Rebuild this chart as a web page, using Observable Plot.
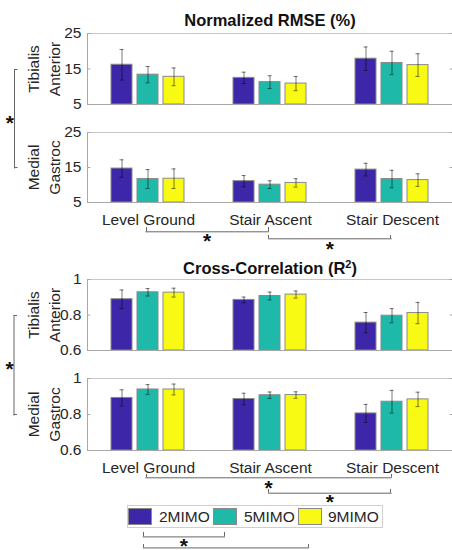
<!DOCTYPE html>
<html>
<head>
<meta charset="utf-8">
<script src="https://cdn.jsdelivr.net/npm/d3@7"></script>
<script src="https://cdn.jsdelivr.net/npm/@observablehq/plot@0.6"></script>
<style>
html, body { margin: 0; padding: 0; background: #fff; overflow: hidden; }
#chart { position: relative; width: 452px; height: 550px; overflow: hidden;
  font-family: "Liberation Sans", Arial, Helvetica, sans-serif; color: #262626; background: #fff; }
#chart svg { position: absolute; max-width: none; }
.title { position: absolute; left: 86px; width: 368px; text-align: center; font-weight: bold;
  font-size: 16.5px; line-height: 16px; color: #111; white-space: nowrap; }
.title sup { font-size: 11px; line-height: 0; vertical-align: 6px; }
.legend { position: absolute; box-sizing: border-box; border: 1px solid #cfcfcf; background: #fff; }
.sw { position: absolute; box-sizing: border-box; border: 1px solid #8a8a8a; }
.lt { position: absolute; font-size: 15.5px; line-height: 18px; color: #262626; white-space: nowrap; }
</style>
</head>
<body>
<div id="chart"></div>
<script>
// ---------- data ----------
const categories = ["Level Ground", "Stair Ascent", "Stair Descent"];
const series = ["2MIMO", "5MIMO", "9MIMO"];
const colors = ["#3d26a8", "#1eb9a9", "#f9fa14"];
const muscles = ["Tibialis\nAnterior", "Medial\nGastroc"];

// rows: categories, columns: series
const rmseTA    = [[16.2, 13.4, 12.8], [12.5, 11.3, 10.9], [17.9, 16.7, 16.1]];
const rmseTAerr = [[4.3, 2.3, 2.5], [1.6, 1.8, 2.0], [3.3, 3.3, 3.2]];
const rmseMG    = [[14.7, 11.7, 11.8], [11.1, 10.1, 10.6], [14.4, 11.7, 11.4]];
const rmseMGerr = [[2.5, 2.7, 2.8], [1.6, 1.1, 1.2], [1.8, 2.5, 1.8]];
const ccTA      = [[0.889, 0.928, 0.926], [0.885, 0.907, 0.915], [0.757, 0.796, 0.811]];
const ccTAerr   = [[0.052, 0.021, 0.025], [0.016, 0.022, 0.020], [0.057, 0.040, 0.060]];
const ccMG      = [[0.892, 0.939, 0.939], [0.886, 0.907, 0.908], [0.806, 0.871, 0.884]];
const ccMGerr   = [[0.045, 0.027, 0.030], [0.032, 0.018, 0.018], [0.050, 0.063, 0.040]];

const rmseTicks = [5, 15, 25];
const ccTicks = [0.6, 0.8, 1];
const rmseDomain = [5, 25];
const ccDomain = [0.6, 1];

// significance pairs
const rmseSig = [["Level Ground", "Stair Ascent"], ["Stair Ascent", "Stair Descent"]];
const ccSig = [["Level Ground", "Stair Descent"], ["Stair Ascent", "Stair Descent"]];
const modelSig = [["2MIMO", "5MIMO"], ["2MIMO", "9MIMO"]];
const muscleSig = [muscles[0], muscles[1]];

// ---------- layout ----------
const FONT = '"Liberation Sans", Arial, Helvetica, sans-serif';
const FRAME_L = 86, FRAME_R = 454, SVG_W = 454;
const STEP = (FRAME_R - FRAME_L) / categories.length;
const AX = "#a8a8a8", AX2 = "#c8c8c8", BR = "#666", STAR = 21, STAR_SHIFT = 0.2;
const EB = {stroke: "#000", strokeOpacity: 0.52};
const chart = document.getElementById("chart");

function place(el, left, top) {
  el.style.left = left + "px";
  el.style.top = top + "px";
  chart.appendChild(el);
}

function table(vals, errs) {
  const rows = [];
  categories.forEach((c, i) => series.forEach((s, j) =>
    rows.push({cat: c, series: s, value: vals[i][j], err: errs[i][j]})));
  return rows;
}

function panel({rows, domain, ticks, label, top, bottom, showCats}) {
  const mt = 8, mb = showCats ? 36 : 8;
  const [yMin, yMax] = domain;
  const lo = d => d.value - d.err, hi = d => d.value + d.err;
  const marks = [
    Plot.barY(rows, {fx: "cat", x: "series", y1: () => yMin, y2: "value", fill: "series", stroke: "#8a8a8a", strokeWidth: 1}),
    Plot.ruleX(rows, {fx: "cat", x: "series", y1: lo, y2: hi, ...EB}),
    Plot.tickY(rows, {fx: "cat", x: "series", y: lo, insetLeft: 8.5, insetRight: 8.5, ...EB}),
    Plot.tickY(rows, {fx: "cat", x: "series", y: hi, insetLeft: 8.5, insetRight: 8.5, ...EB}),
    Plot.ruleY([yMax], {stroke: AX2}),
    Plot.ruleY([yMin], {stroke: AX}),
    Plot.frame({anchor: "left", facetAnchor: "left", stroke: AX}),
    Plot.frame({anchor: "right", facetAnchor: "right", stroke: AX2}),
    Plot.tickY(ticks, {y: d => d, facetAnchor: "left", insetRight: STEP - 4, stroke: AX}),
    Plot.tickY(ticks, {y: d => d, facetAnchor: "right", insetLeft: STEP - 4, stroke: AX}),
    Plot.axisY({anchor: "left", facetAnchor: "left", ticks, tickSize: 0, tickPadding: 6, label: null, tickFormat: d => String(d), fill: "#262626"}),
    Plot.text([label], {frameAnchor: "left", facetAnchor: "left", dx: -44.5, rotate: -90, textAnchor: "middle", lineAnchor: "middle", lineHeight: 1.355, fill: "#262626"})
  ];
  if (showCats) marks.push(Plot.axisFx({anchor: "bottom", tickSize: 0, tickPadding: 11, label: null, fill: "#262626"}));
  const svg = Plot.plot({
    width: SVG_W, height: (bottom - top) + mt + mb,
    marginLeft: FRAME_L, marginRight: SVG_W - FRAME_R, marginTop: mt, marginBottom: mb,
    style: {fontFamily: FONT, fontSize: "15.5px", color: "#262626", background: "transparent", overflow: "visible", maxWidth: "none"},
    fx: {domain: categories, padding: 0, axis: null, label: null},
    x: {domain: series, paddingInner: 0.185, paddingOuter: 0.864, axis: null, label: null},
    y: {domain, axis: null, label: null},
    color: {domain: series, range: colors},
    marks
  });
  place(svg, 0, top - mt);
}

function hBracket(labels, p1, p2, lineY, tick, starOff) {
  const mt = 4, mb = 26, W = 452;
  const svg = Plot.plot({
    width: W, height: mt + tick + mb,
    marginLeft: p1, marginRight: W - p2, marginTop: mt, marginBottom: mb,
    style: {fontFamily: FONT, background: "transparent", overflow: "visible", maxWidth: "none"},
    x: {type: "point", domain: labels, padding: 0, axis: null},
    marks: [
      Plot.frame({anchor: "bottom", stroke: BR}),
      Plot.ruleX(labels, {stroke: BR}),
      Plot.text(["*"], {frameAnchor: "bottom", lineAnchor: "middle", dy: starOff + STAR_SHIFT * STAR, fontSize: STAR, fontWeight: "bold", fill: "#111"})
    ]
  });
  place(svg, 0, lineY - tick - mt);
}

function vBracket(labels, x, y1, y2, tick, starDx) {
  const mt = 10, mb = 10, W = 30;
  const svg = Plot.plot({
    width: W, height: (y2 - y1) + mt + mb,
    marginLeft: x, marginRight: W - x - tick, marginTop: mt, marginBottom: mb,
    style: {fontFamily: FONT, background: "transparent", overflow: "visible", maxWidth: "none"},
    y: {type: "point", domain: labels, padding: 0, axis: null},
    marks: [
      Plot.frame({anchor: "left", stroke: BR}),
      Plot.ruleY(labels, {stroke: BR}),
      Plot.text(["*"], {frameAnchor: "left", lineAnchor: "middle", dx: starDx, dy: STAR_SHIFT * STAR, textAnchor: "middle", fontSize: STAR, fontWeight: "bold", fill: "#111"})
    ]
  });
  place(svg, 0, y1 - mt);
}

const catX = c => FRAME_L + STEP * (categories.indexOf(c) + 0.5);

// ---------- titles ----------
const t1 = document.createElement("div");
t1.className = "title"; t1.textContent = "Normalized RMSE (%)";
place(t1, 86, 12);
const t2 = document.createElement("div");
t2.className = "title"; t2.innerHTML = "Cross-Correlation (R<sup>2</sup>)";
place(t2, 86, 260);

// ---------- panels ----------
panel({rows: table(rmseTA, rmseTAerr), domain: rmseDomain, ticks: rmseTicks, label: muscles[0], top: 33, bottom: 104, showCats: false});
panel({rows: table(rmseMG, rmseMGerr), domain: rmseDomain, ticks: rmseTicks, label: muscles[1], top: 132, bottom: 202, showCats: true});
panel({rows: table(ccTA, ccTAerr), domain: ccDomain, ticks: ccTicks, label: muscles[0], top: 279, bottom: 350, showCats: false});
panel({rows: table(ccMG, ccMGerr), domain: ccDomain, ticks: ccTicks, label: muscles[1], top: 378, bottom: 450, showCats: true});

// ---------- significance brackets ----------
const rmseRows = [{y: 231, tick: 4.3, star: 5.7}, {y: 238.3, tick: 3.3, star: 6.7}];
rmseSig.forEach((p, i) => hBracket(p, catX(p[0]) - 2, catX(p[1]) - 2, rmseRows[i].y, rmseRows[i].tick, rmseRows[i].star));
const ccRows = [{y: 477.3, tick: 3.3, star: 6}, {y: 492.7, tick: 3.7, star: 5.3}];
ccSig.forEach((p, i) => hBracket(p, catX(p[0]) - 2, catX(p[1]) - 2, ccRows[i].y, ccRows[i].tick, ccRows[i].star));

vBracket(muscleSig, 14, 68.5, 167, 3.5, -4.7);
vBracket(muscleSig, 13.5, 314.5, 414, 3.5, -4.5);

// ---------- legend ----------
const legendBox = {left: 126.7, top: 505, width: 256.6, height: 23.3};
const swX = [128.3, 213.3, 298.3];
const txX = [159, 244, 328];
const lg = document.createElement("div");
lg.className = "legend";
lg.style.width = legendBox.width + "px";
lg.style.height = legendBox.height + "px";
place(lg, legendBox.left, legendBox.top);
series.forEach((s, i) => {
  const sw = document.createElement("div");
  sw.className = "sw";
  sw.style.background = colors[i];
  sw.style.width = "23.4px"; sw.style.height = "16.7px";
  place(sw, swX[i], 508.3);
  const tx = document.createElement("div");
  tx.className = "lt"; tx.textContent = s;
  place(tx, txX[i], 507.7);
});

const modelPos = s => 142.7 + series.indexOf(s) * (308.3 - 142.7) / (series.length - 1);
const modelRows = [{y: 536.7, tick: 4.4, star: 5}, {y: 547.7, tick: 3.4, star: 5.3}];
modelSig.forEach((p, i) => hBracket(p, modelPos(p[0]), modelPos(p[1]) - (i === 0 ? 1.5 : 0), modelRows[i].y, modelRows[i].tick, modelRows[i].star));
</script>
</body>
</html>
